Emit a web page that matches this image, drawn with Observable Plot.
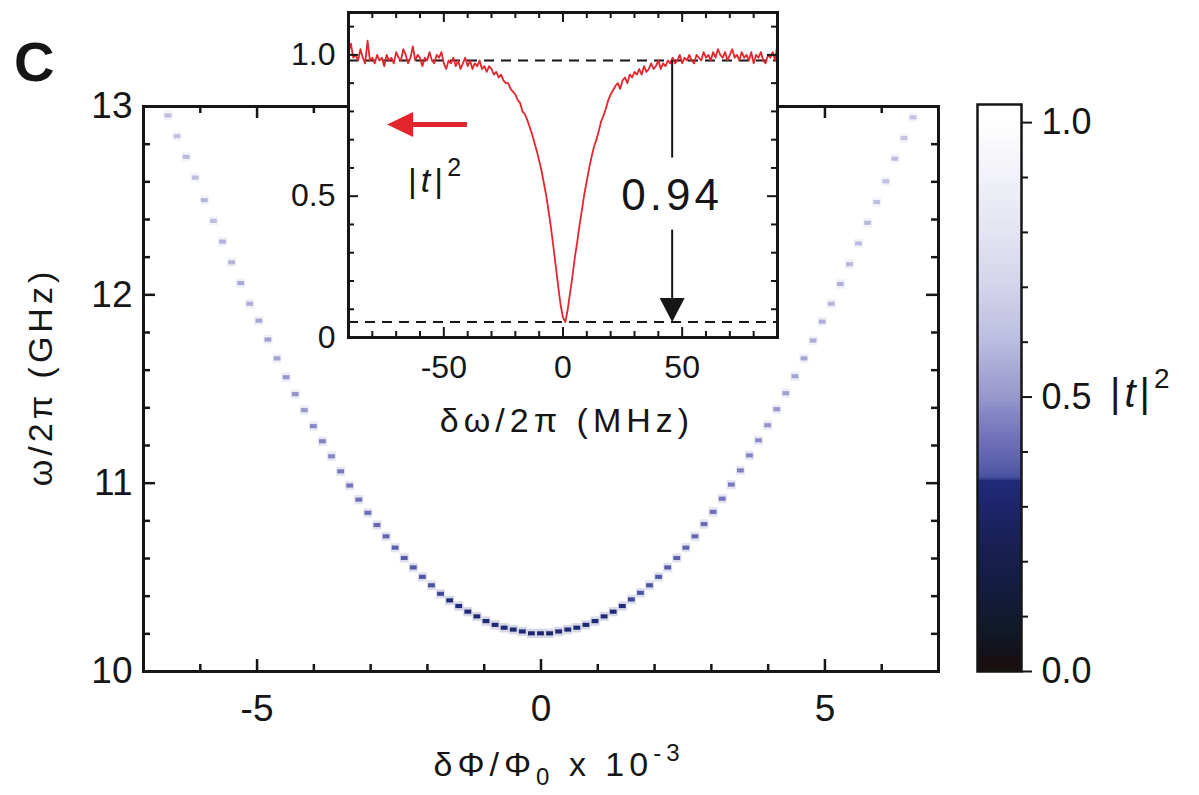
<!DOCTYPE html>
<html><head><meta charset="utf-8">
<script src="https://cdn.jsdelivr.net/npm/d3@7"></script>
<script src="https://cdn.jsdelivr.net/npm/@observablehq/plot@0.6"></script>
<style>
html,body{margin:0;padding:0;background:#fff;}
#fig{position:relative;width:1199px;height:795px;overflow:hidden;background:#fff;}
#fig svg{position:absolute;top:0;overflow:visible;}
</style></head><body><div id="fig"></div>
<script>
// ---------- main panel data: flux columns, resonance frequency, minimum |t|^2 ----------
const phi = [-6.88,-6.72,-6.56,-6.40,-6.24,-6.08,-5.92,-5.76,-5.60,-5.44,-5.28,-5.12,-4.96,-4.80,-4.64,-4.48,-4.32,-4.16,-4.00,-3.84,-3.68,-3.52,-3.36,-3.20,-3.04,-2.88,-2.72,-2.56,-2.40,-2.24,-2.08,-1.92,-1.76,-1.60,-1.44,-1.28,-1.12,-0.96,-0.80,-0.64,-0.48,-0.32,-0.16,0,
 0.16,0.32,0.48,0.64,0.80,0.96,1.12,1.28,1.44,1.60,1.76,1.92,2.08,2.24,2.40,2.56,2.72,2.88,3.04,3.20,3.36,3.52,3.68,3.84,4.00,4.16,4.32,4.48,4.64,4.80,4.96,5.12,5.28,5.44,5.60,5.76,5.92,6.08,6.24,6.40,6.56,6.72,6.88];
const omega = [13.19,13.07,12.95,12.84,12.73,12.62,12.50,12.39,12.28,12.17,12.06,11.95,11.86,11.76,11.66,11.56,11.47,11.385,11.30,11.22,11.14,11.06,10.985,10.91,10.84,10.775,10.715,10.655,10.60,10.55,10.50,10.455,10.41,10.375,10.345,10.315,10.29,10.265,10.245,10.23,10.22,10.21,10.20,10.20,
 10.20,10.21,10.22,10.23,10.245,10.265,10.29,10.315,10.345,10.38,10.415,10.455,10.50,10.55,10.60,10.655,10.715,10.78,10.845,10.915,10.99,11.065,11.145,11.225,11.305,11.39,11.475,11.565,11.66,11.755,11.855,11.95,12.055,12.16,12.27,12.38,12.49,12.60,12.72,12.83,12.94,13.06,13.18];
const tMin = [0.62,0.62,0.60,0.62,0.59,0.61,0.58,0.60,0.57,0.58,0.55,0.56,0.54,0.52,0.53,0.50,0.49,0.50,0.47,0.46,0.47,0.44,0.43,0.42,0.41,0.40,0.39,0.38,0.37,0.365,0.36,0.355,0.35,0.345,0.34,0.34,0.335,0.33,0.33,0.325,0.32,0.32,0.31,0.31,
 0.31,0.32,0.32,0.325,0.33,0.33,0.335,0.34,0.345,0.35,0.355,0.36,0.365,0.37,0.38,0.39,0.40,0.41,0.42,0.43,0.44,0.45,0.47,0.48,0.49,0.50,0.52,0.53,0.54,0.55,0.56,0.58,0.57,0.59,0.60,0.59,0.61,0.62,0.61,0.63,0.62,0.64,0.64];
const mainXTicks = [-5, 0, 5];
const mainXMinor = [-6, -4, -3, -2, -1, 1, 2, 3, 4, 6];
const mainYTicks = [10, 11, 12, 13];
const mainYMinor = [10.2, 10.4, 10.6, 10.8, 11.2, 11.4, 11.6, 11.8, 12.2, 12.4, 12.6, 12.8];

// ---------- inset data: detuning (MHz) and transmission |t|^2 ----------
const inDw = [-90,-89,-88,-87,-86,-85,-84,-83,-82,-81,-80,-79,-78,-77,-76,-75,-74,-73,-72,-71,-70,-69,-68,-67,-66,-65,-64,-63,-62,-61,-60,-59,-58,-57,-56,-55,-54,-53,-52,-51,-50,-49,-48,-47,-46,-45,-44,-43,-42,-41,-40,-39,-38,-37,-36,-35,-34,-33,-32,-31,-30,-29,-28,-27,-26,-25,-24,-23,-22,-21,-20,-19,-18,-17,-16,-15,-14,-13,-12,-11,-10,-9,-8,-7,-6,-5,-4,-3,-2,-1,0,1,2,3,4,5,6,7,8,9,10,11,12,13,14,15,16,17,18,19,20,21,22,23,24,25,26,27,28,29,30,31,32,33,34,35,36,37,38,39,40,41,42,43,44,45,46,47,48,49,50,51,52,53,54,55,56,57,58,59,60,61,62,63,64,65,66,67,68,69,70,71,72,73,74,75,76,77,78,79,80,81,82,83,84,85,86,87,88,89,90];
const inT = [1.01,1.04,0.99,1.00,0.98,1.02,0.99,0.97,1.05,0.98,0.99,0.97,1.00,0.98,0.99,0.96,1.00,0.98,0.99,0.97,1.01,0.99,0.98,1.02,1.00,0.97,0.99,1.03,0.98,1.00,0.99,0.96,0.99,0.98,1.01,0.98,0.97,1.00,0.99,1.01,0.97,0.95,0.98,0.97,0.99,0.96,0.98,0.95,0.97,0.99,0.96,0.98,0.95,0.97,0.96,0.98,0.95,0.96,0.94,0.96,0.95,0.93,0.94,0.92,0.93,0.91,0.90,0.90,0.88,0.87,0.86,0.84,0.83,0.80,0.79,0.77,0.745,0.72,0.69,0.66,0.625,0.59,0.545,0.50,0.445,0.385,0.32,0.25,0.18,0.115,0.07,0.055,0.10,0.16,0.22,0.285,0.34,0.40,0.455,0.51,0.555,0.60,0.64,0.675,0.70,0.73,0.765,0.785,0.81,0.84,0.86,0.875,0.89,0.90,0.88,0.91,0.92,0.90,0.93,0.92,0.94,0.93,0.95,0.93,0.96,0.94,0.95,0.97,0.95,0.96,0.98,0.95,0.97,0.96,0.98,0.97,0.99,0.97,0.98,1.00,0.97,0.99,0.98,1.00,0.98,0.97,1.00,0.99,0.98,1.01,0.99,1.00,0.98,1.01,0.99,1.02,1.00,0.99,1.01,0.98,1.00,1.02,0.99,1.00,0.98,1.01,0.99,1.00,0.98,1.01,0.97,1.00,0.99,1.01,0.98,0.97,1.00,0.99,1.01,0.98,1.04];
const inXTicks = [-50, 0, 50];
const inXMinor = [-80,-70,-60,-40,-30,-20,-10,10,20,30,40,60,70,80];
const inYTicks = [0, 0.5, 1.0];
const inYMinor = [0.1,0.2,0.3,0.4,0.6,0.7,0.8,0.9,1.1];
const inRefLevels = [0.98, 0.055];
const extinctionLabel = "0.94";
const markerDw = 45.8;
const redArrow = {tip: -73.8, tail: -40.3, level: 0.754};

// ---------- colour bar ----------
const cbTicks = [0, 0.5, 1.0];
const cbMinor = [0.1,0.2,0.3,0.4,0.6,0.7,0.8,0.9];
const cStops  = [0, 0.03, 0.08, 0.15, 0.22, 0.28, 0.345, 0.352, 0.38, 0.42, 0.46, 0.5, 0.55, 0.6, 0.7, 0.8, 0.9, 1.0];
const cColors = ["#1c0f0f","#151218","#121a2a","#141c40","#182050","#1c2464","#212b7a","#4a52a0","#5c62ac","#7070b8","#8282c4","#9898cc","#aaaad6","#bcbce0","#d4d4ec","#e4e4f2","#f1f1f8","#ffffff"];

// ---------- layout ----------
const FONT = '"Liberation Sans", Arial, Helvetica, sans-serif';
const INK = "#161616";
const RED = "#e3262d";
const W = 1199, H = 795;
const M = {l:143, r:938, t:106, b:671, xd:[-7,7], yd:[10,13]};
const I = {left:260, w:560, h:460, l:348, r:777, t:12, b:337, xd:[-90,90], yd:[0,1.15]};
const C = {left:960, w:239, l:977, r:1021, t:104, b:671, yd:[0,1.033]};
const colorOpt = {type:"linear", domain:cStops, range:cColors, interpolate:"rgb", clamp:true};
const hyphen = d => d < 0 ? "-" + (-d) : String(d);

function inwardTicks(vals, dir, g, len, sw) {
  const kx = (g.r - g.l) / (g.xd[1] - g.xd[0]), ky = (g.b - g.t) / (g.yd[1] - g.yd[0]);
  const o = {stroke: INK, strokeWidth: sw};
  if (dir === "x") return [
    Plot.ruleX(vals, {x: d => d, y1: g.yd[0], y2: g.yd[0] + len / ky, ...o}),
    Plot.ruleX(vals, {x: d => d, y1: g.yd[1], y2: g.yd[1] - len / ky, ...o})];
  return [
    Plot.ruleY(vals, {y: d => d, x1: g.xd[0], x2: g.xd[0] + len / kx, ...o}),
    Plot.ruleY(vals, {y: d => d, x1: g.xd[1], x2: g.xd[1] - len / kx, ...o})];
}
const baseStyle = fs => ({fontFamily: FONT, fontSize: fs + "px", color: INK, background: "transparent", overflow: "visible"});

// ---------- main plot ----------
const cells = phi.map((p, i) => ({phi: p, omega: omega[i], t: tMin[i]}));
const mainSvg = Plot.plot({
  width: W, height: H,
  marginLeft: M.l, marginRight: W - M.r, marginTop: M.t, marginBottom: H - M.b,
  style: baseStyle(37),
  x: {domain: M.xd}, y: {domain: M.yd}, color: colorOpt,
  marks: [
    Plot.rect(cells, {x1: d => d.phi - 0.08, x2: d => d.phi + 0.08, y1: d => d.omega - 0.025, y2: d => d.omega + 0.025, fill: "t", fillOpacity: 0.18, clip: true}),
    Plot.rect(cells, {x1: d => d.phi - 0.06, x2: d => d.phi + 0.06, y1: d => d.omega - 0.011, y2: d => d.omega + 0.011, fill: "t", clip: true}),
    ...inwardTicks(mainXMinor, "x", M, 7, 2.5), ...inwardTicks(mainXTicks, "x", M, 12, 2.5),
    ...inwardTicks(mainYMinor, "y", M, 7, 2.5), ...inwardTicks(mainYTicks, "y", M, 12, 2.5),
    Plot.axisX({ticks: mainXTicks, tickSize: 0, tickPadding: 23, tickFormat: hyphen, label: null, fontSize: 37}),
    Plot.axisY({ticks: mainYTicks, tickSize: 0, tickPadding: 11, tickFormat: d => String(d), label: null, fontSize: 37}),
    Plot.frame({stroke: INK, strokeWidth: 3})
  ]
});

// ---------- inset ----------
const inData = inDw.map((x, i) => ({dw: x, t: inT[i]}));
const kxI = (I.r - I.l) / (I.xd[1] - I.xd[0]), kyI = (I.b - I.t) / (I.yd[1] - I.yd[0]);
const headLeft = {draw(c) { c.moveTo(-13, 0); c.lineTo(13, -12.5); c.lineTo(13, 12.5); c.closePath(); }};
const headDown = {draw(c) { c.moveTo(0, 12); c.lineTo(-12.5, -12); c.lineTo(12.5, -12); c.closePath(); }};
const insetSvg = Plot.plot({
  width: I.w, height: I.h,
  marginLeft: I.l - I.left, marginRight: I.left + I.w - I.r, marginTop: I.t, marginBottom: I.h - I.b,
  style: baseStyle(32),
  x: {domain: I.xd}, y: {domain: I.yd},
  marks: [
    Plot.frame({fill: "white", stroke: "none"}),
    Plot.ruleY(inRefLevels, {y: d => d, stroke: INK, strokeWidth: 2, strokeDasharray: "10,7"}),
    Plot.line(inData, {x: "dw", y: "t", stroke: RED, strokeWidth: 1.8}),
    Plot.link([redArrow], {x1: d => d.tip + 13 / kxI, x2: "tail", y1: "level", y2: "level", stroke: RED, strokeWidth: 5}),
    Plot.dot([redArrow], {x: d => d.tip + 13 / kxI, y: "level", symbol: headLeft, fill: RED, stroke: "none", r: 10}),
    Plot.ruleX([markerDw], {x: d => d, y1: inRefLevels[0], y2: 0.635, stroke: INK, strokeWidth: 2}),
    Plot.ruleX([markerDw], {x: d => d, y1: 0.38, y2: inRefLevels[1] + 22 / kyI, stroke: INK, strokeWidth: 2}),
    Plot.dot([markerDw], {x: d => d, y: () => inRefLevels[1] + 12 / kyI, symbol: headDown, fill: INK, stroke: "none", r: 10}),
    Plot.text([extinctionLabel], {x: () => markerDw, y: () => 0.502, text: d => d, fontSize: 44, fill: INK}),
    ...inwardTicks(inXMinor, "x", I, 6, 2), ...inwardTicks(inXTicks, "x", I, 10, 2),
    ...inwardTicks(inYMinor, "y", I, 6, 2), ...inwardTicks(inYTicks, "y", I, 10, 2),
    Plot.axisX({ticks: inXTicks, tickSize: 0, tickPadding: 18, tickFormat: hyphen, label: null, fontSize: 32}),
    Plot.axisY({ticks: inYTicks, tickSize: 0, tickPadding: 13, tickFormat: d => d === 0 ? "0" : d.toFixed(1), label: null, fontSize: 32}),
    Plot.frame({stroke: INK, strokeWidth: 3})
  ]
});

// ---------- colour bar ----------
const ramp = d3.range(0, 1.033, 0.003);
const cbarSvg = Plot.plot({
  width: C.w, height: H,
  marginLeft: C.l - C.left, marginRight: C.left + C.w - C.r, marginTop: C.t, marginBottom: H - C.b,
  style: baseStyle(36),
  x: {domain: [0, 1], axis: null}, y: {domain: C.yd, axis: null}, color: colorOpt,
  marks: [
    Plot.rect(ramp, {x1: 0, x2: 1, y1: d => d, y2: d => Math.min(d + 0.0045, C.yd[1]), fill: d => d}),
    Plot.axisY({anchor: "right", ticks: cbMinor, tickSize: 6, tickFormat: () => "", strokeWidth: 2, label: null}),
    Plot.axisY({anchor: "right", ticks: cbTicks, tickSize: 10, tickPadding: 10, tickFormat: d => d.toFixed(1), strokeWidth: 2, label: null, fontSize: 36}),
    Plot.frame({stroke: INK, strokeWidth: 2.5})
  ]
});

const fig = document.getElementById("fig");
mainSvg.style.left = "0px"; insetSvg.style.left = I.left + "px"; cbarSvg.style.left = C.left + "px";
fig.appendChild(mainSvg); fig.appendChild(insetSvg); fig.appendChild(cbarSvg);

// ---------- titles and labels ----------
const sm = d3.select(mainSvg);
sm.append("text").attr("x", 14).attr("y", 81).attr("text-anchor", "start").attr("font-size", 56).attr("font-weight", "bold").attr("fill", INK).text("C");
sm.append("text").attr("transform", "translate(52,377) rotate(-90)").attr("text-anchor", "middle")
  .attr("font-size", 34).attr("letter-spacing", 4).attr("fill", INK).text("ω/2π (GHz)");
const xt = sm.append("text").attr("x", 559).attr("y", 776).attr("text-anchor", "middle").attr("font-size", 34).attr("letter-spacing", 5).attr("fill", INK);
xt.append("tspan").text("δΦ/Φ");
xt.append("tspan").attr("dy", 9).attr("font-size", 24).text("0");
xt.append("tspan").attr("dy", -9).text(" x 10");
xt.append("tspan").attr("dy", -15).attr("font-size", 24).text("-3");

const si = d3.select(insetSvg);
si.selectAll("text").filter(function() { return this.textContent === extinctionLabel; }).attr("letter-spacing", 4);
si.append("text").attr("x", 567 - I.left).attr("y", 432).attr("text-anchor", "middle").attr("font-size", 34).attr("letter-spacing", 5).attr("fill", INK).text("δω/2π (MHz)");
const lt = si.append("text").attr("x", 408 - I.left).attr("y", 192).attr("text-anchor", "start").attr("font-size", 34).attr("letter-spacing", 4).attr("fill", INK);
lt.append("tspan").text("|");
lt.append("tspan").attr("font-style", "italic").text("t");
lt.append("tspan").text("|");
lt.append("tspan").attr("dy", -16).attr("font-size", 25).text("2");

const sc = d3.select(cbarSvg);
const ct = sc.append("text").attr("x", 1110 - C.left).attr("y", 407).attr("text-anchor", "start").attr("font-size", 40).attr("letter-spacing", 4).attr("fill", INK);
ct.append("tspan").text("|");
ct.append("tspan").attr("font-style", "italic").text("t");
ct.append("tspan").text("|");
ct.append("tspan").attr("dy", -19).attr("font-size", 28).text("2");
</script></body></html>
